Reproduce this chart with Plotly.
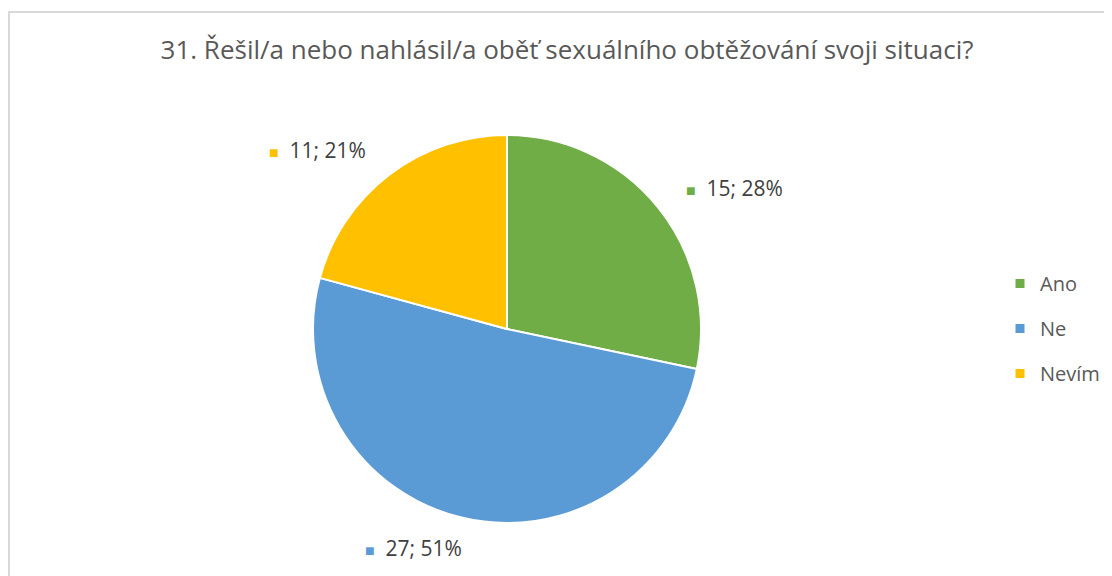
import plotly.graph_objects as go

# Data
categories = ["Ano", "Ne", "Nevím"]
counts = [15, 27, 11]
colors = ["#70AD47", "#5B9BD5", "#FFC000"]
title_text = "31. Řešil/a nebo nahlásil/a oběť sexuálního obtěžování svoji situaci?"

W, H = 1104, 568   # page body has an 8px margin
O = 8
total = sum(counts)
pct = [round(100 * c / total) for c in counts]


def px(x):
    return (x - O) / W


def py(y):
    return 1 - (y - O) / H


FONT = "Open Sans"

fig = go.Figure()

# pie centre (507, 329) px, radius 194 px (page coordinates)
cx, cy, r = 507, 329, 194
fig.add_trace(go.Pie(
    labels=categories,
    values=counts,
    sort=False,
    direction="clockwise",
    rotation=0,
    marker=dict(colors=colors, line=dict(color="white", width=2)),
    textinfo="none",
    hoverinfo="label+value+percent",
    showlegend=False,
    domain=dict(x=[px(cx - r), px(cx + r)], y=[py(cy + r), py(cy - r)]),
))

# legend via dummy traces
for cat, col in zip(categories, colors):
    fig.add_trace(go.Scatter(
        x=[None], y=[None], mode="markers", name=cat,
        marker=dict(symbol="square", size=9, color=col),
        legendgroup=cat, showlegend=True, hoverinfo="skip",
    ))

# data labels (left edge of marker, vertical centre) in page px
label_pos = [(684, 188), (363, 548), (267, 150)]
for (lx, ly), c, p, col in zip(label_pos, counts, pct, colors):
    fig.add_annotation(
        x=px(lx), y=py(ly), xref="paper", yref="paper",
        xanchor="left", yanchor="middle", showarrow=False,
        text=f"<span style='color:{col};font-size:16px'>■</span>  {c}; {p}%",
        font=dict(family=FONT, size=21, color="#404040"),
    )

# chart border
fig.add_shape(type="rect", xref="paper", yref="paper",
              x0=px(9), x1=1.02, y0=-0.02, y1=py(12),
              line=dict(color="#D9D9D9", width=2), fillcolor="rgba(0,0,0,0)")

fig.update_layout(
    width=W, height=H,
    margin=dict(l=0, r=0, t=0, b=0),
    paper_bgcolor="white", plot_bgcolor="white",
    title=dict(text=title_text, x=px(567), xanchor="center", y=py(50), yanchor="middle",
               font=dict(family=FONT, size=26, color="#595959")),
    xaxis=dict(visible=False), yaxis=dict(visible=False),
    legend=dict(x=px(1000), y=py(264), xanchor="left", yanchor="top",
                font=dict(family=FONT, size=20, color="#595959"),
                tracegroupgap=16, itemclick=False, itemdoubleclick=False,
                bgcolor="rgba(0,0,0,0)"),
    hovermode="closest",
)

fig.write_html("out.html")
